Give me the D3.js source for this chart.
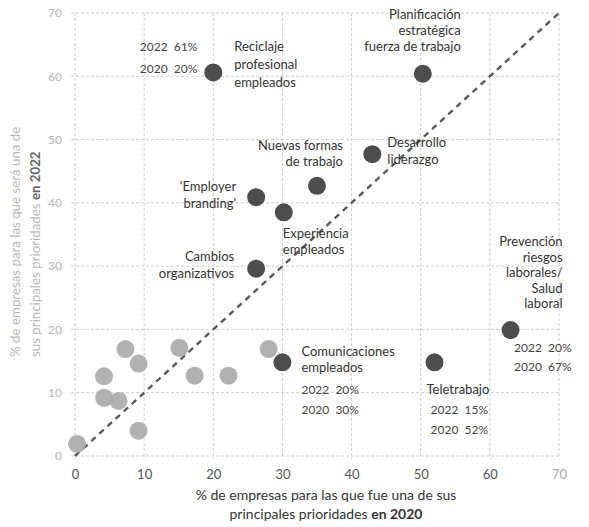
<!DOCTYPE html>
<html>
<head>
<meta charset="utf-8">
<script src="https://cdn.jsdelivr.net/npm/d3@7"></script>
<style>
  body { margin: 0; background: #fff; }
  svg { font-family: Lato, "Open Sans", sans-serif; }
</style>
</head>
<body>
<div id="chart"></div>
<script>
// named topics (dark dots): x = % in 2020, y = % in 2022
const topicNames = ["Reciclaje profesional empleados", "Planificación estratégica fuerza de trabajo",
  "Desarrollo liderazgo", "Nuevas formas de trabajo", "'Employer branding'", "Experiencia empleados",
  "Cambios organizativos", "Comunicaciones empleados", "Teletrabajo", "Prevención riesgos laborales/ Salud laboral"];
const topicX2020 = [20, 50.3, 43, 35, 26.2, 30.2, 26.2, 30, 52, 63];
const topicY2022 = [60.6, 60.4, 47.7, 42.7, 40.9, 38.5, 29.6, 14.8, 14.8, 19.9];

// the other, unlabelled topics (light dots)
const otherX2020 = [0.3, 4.2, 4.2, 6.3, 7.3, 9.2, 9.2, 15.1, 17.3, 22.2, 28];
const otherY2022 = [1.9, 12.6, 9.2, 8.7, 16.9, 14.6, 4, 17.1, 12.7, 12.7, 16.9];

const xTicks = [0, 10, 20, 30, 40, 50, 60, 70];
const yTicks = [0, 10, 20, 30, 40, 50, 60, 70];

// printed values next to some dots
const valueTopics = [0, 7, 8, 9];
const value2022 = ["61%", "20%", "15%", "20%"];
const value2020 = ["20%", "30%", "52%", "67%"];

const width = 589, height = 527;

const svg = d3.select("#chart").append("svg")
    .attr("width", width)
    .attr("height", height);

const x = d3.scaleLinear().domain([0, 70]).range([75, 559]);
const y = d3.scaleLinear().domain([0, 70]).range([456, 13]);

// grid
const grid = svg.append("g")
    .attr("stroke", "#cdcdcd")
    .attr("stroke-width", 1)
    .attr("stroke-dasharray", "3,2");
grid.selectAll(".h").data(yTicks).enter().append("line")
    .attr("x1", x(0) - 4).attr("x2", x(70))
    .attr("y1", d => y(d)).attr("y2", d => y(d));
grid.selectAll(".v").data(xTicks).enter().append("line")
    .attr("x1", d => x(d)).attr("x2", d => x(d))
    .attr("y1", y(70)).attr("y2", y(0) + 3);

// axes (only labels, no domain)
const xAxis = svg.append("g")
    .attr("transform", "translate(0," + (y(0) + 8) + ")")
    .call(d3.axisBottom(x).tickValues(xTicks).tickSize(0).tickPadding(6));
xAxis.select(".domain").remove();
xAxis.selectAll("text")
    .attr("font-size", 13)
    .attr("font-family", "Lato")
    .attr("fill", d => d == 70 ? "#aaa" : "#555");

const yAxis = svg.append("g")
    .attr("transform", "translate(" + (x(0) - 13) + ",0)")
    .call(d3.axisLeft(y).tickValues(yTicks).tickSize(0).tickPadding(0));
yAxis.select(".domain").remove();
yAxis.selectAll("text")
    .attr("font-size", 12)
    .attr("font-family", "Lato")
    .attr("fill", "#b5b5b5");

// diagonal 2020 = 2022
svg.append("line")
    .attr("x1", x(0)).attr("y1", y(0))
    .attr("x2", x(70)).attr("y2", y(70))
    .attr("stroke", "#5a5a5a")
    .attr("stroke-width", 2.4)
    .attr("stroke-dasharray", "6,5");

// light dots
svg.append("g").selectAll("circle")
    .data(otherX2020.map((v, i) => [v, otherY2022[i]]))
    .enter().append("circle")
    .attr("cx", d => x(d[0]))
    .attr("cy", d => y(d[1]))
    .attr("r", 9)
    .attr("fill", "#a9a9a9")
    .attr("opacity", 0.9);

// dark dots
svg.append("g").selectAll("circle")
    .data(topicNames.map((n, i) => ({name: n, x: topicX2020[i], y: topicY2022[i]})))
    .enter().append("circle")
    .attr("cx", d => x(d.x))
    .attr("cy", d => y(d.y))
    .attr("r", 9)
    .attr("fill", "#4d4d4d");

// label layout: offset of first line from the dot, anchor, line height
const labelLines = [
  ["Reciclaje", "profesional", "empleados"],
  ["Planificación", "estratégica", "fuerza de trabajo"],
  ["Desarrollo", "liderazgo"],
  ["Nuevas formas", "de trabajo"],
  ["'Employer", "branding'"],
  ["Experiencia", "empleados"],
  ["Cambios", "organizativos"],
  ["Comunicaciones", "empleados"],
  ["Teletrabajo"],
  ["Prevención", "riesgos", "laborales/", "Salud", "laboral"]
];
const labelLayout = [
  {dx: 21, dy: -21, a: "start", lh: 18},
  {dx: 38, dy: -55, a: "end", lh: 16},
  {dx: 15, dy: -7, a: "start", lh: 17},
  {dx: 26, dy: -36, a: "end", lh: 16},
  {dx: -20, dy: -6, a: "end", lh: 17},
  {dx: -1, dy: 26, a: "start", lh: 16},
  {dx: -22, dy: -8, a: "end", lh: 17},
  {dx: 19, dy: -6, a: "start", lh: 16},
  {dx: -8, dy: 32, a: "start", lh: 16},
  {dx: 52, dy: -84, a: "end", lh: 15.6}
];
const valueLayout = [
  {dx: -16, dy: -21, a: "end", lh: 22},
  {dx: 19, dy: 32, a: "start", lh: 20},
  {dx: -4, dy: 52, a: "start", lh: 20},
  {dx: 61, dy: 22, a: "end", lh: 19}
];

const labels = svg.append("g")
    .attr("font-size", 13)
    .attr("fill", "#333");

topicNames.forEach(function (n, i) {
  const L = labelLayout[i];
  const t = labels.append("text")
      .attr("x", x(topicX2020[i]) + L.dx)
      .attr("y", y(topicY2022[i]) + L.dy)
      .attr("text-anchor", L.a);
  labelLines[i].forEach(function (line, j) {
    t.append("tspan")
        .attr("x", x(topicX2020[i]) + L.dx)
        .attr("dy", j == 0 ? 0 : L.lh)
        .text(line);
  });
});

valueTopics.forEach(function (k, i) {
  const L = valueLayout[i];
  const px = x(topicX2020[k]) + L.dx;
  const py = y(topicY2022[k]) + L.dy;
  labels.append("text")
      .attr("x", px).attr("y", py)
      .attr("text-anchor", L.a)
      .attr("font-size", 12)
      .attr("fill", "#444")
      .text("2022\u00a0\u00a0" + value2022[i]);
  labels.append("text")
      .attr("x", px).attr("y", py + L.lh)
      .attr("text-anchor", L.a)
      .attr("font-size", 12)
      .attr("fill", "#444")
      .text("2020\u00a0\u00a0" + value2020[i]);
});

// axis titles
const xt = svg.append("text")
    .attr("x", 326).attr("y", 500)
    .attr("text-anchor", "middle")
    .attr("font-size", 14)
    .attr("fill", "#333");
xt.append("tspan").attr("x", 326).text("% de empresas para las que fue una de sus");
xt.append("tspan").attr("x", 326).attr("dy", 19).text("principales prioridades ");
xt.append("tspan").attr("font-weight", "bold").text("en 2020");

const yt = svg.append("text")
    .attr("transform", "translate(20,357) rotate(-90)")
    .attr("text-anchor", "start")
    .attr("font-size", 13.3)
    .attr("fill", "#b8b8b8");
yt.append("tspan").attr("x", 0).text("% de empresas para las que será una de");
yt.append("tspan").attr("x", 0).attr("dy", 20).text("sus principales prioridades ");
yt.append("tspan").attr("font-weight", "bold").attr("fill", "#666").text("en 2022");
</script>
</body>
</html>
